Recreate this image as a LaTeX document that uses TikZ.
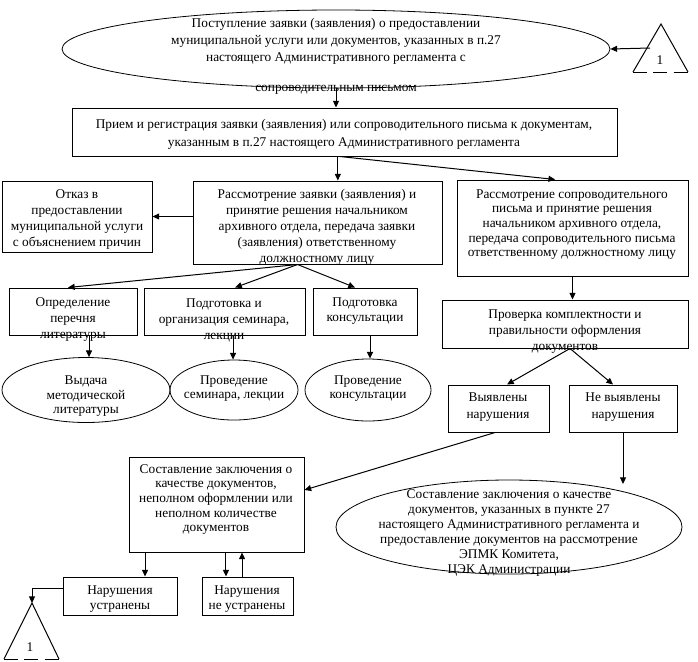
\documentclass[tikz,border=0pt]{standalone}
\usepackage{fontspec}
\setmainfont{Liberation Serif}
\usetikzlibrary{arrows.meta,fit,shapes.geometric,calc}
\begin{document}
\begin{tikzpicture}[x=0.75pt,y=-0.75pt,
  line width=0.75pt,
  arr/.style={-{Triangle[length=5pt,width=4.5pt]}},
  bx/.style={draw, rectangle, inner sep=0pt},
  el/.style={draw, ellipse, inner sep=0pt, line width=0.6pt},
  tx/.style={align=center, inner sep=0pt, font=\fontsize{10}{#1}\selectfont},
  tx/.default=12pt,
  basedash/.style={dash pattern=on 10.5pt off 4.7pt}]
\useasboundingbox (0,0) rectangle (698,661);

% ---------- shapes ----------
\node[el, minimum width=411pt, minimum height=58.5pt] (E1) at (336,49) {};
\node[bx, fit={(72,108) (617,156)}] (B1) {};
\node[bx, fit={(2,181) (152,252)}] (B2) {};
\node[bx, fit={(193,181) (442,264)}] (B3) {};
\node[bx, fit={(457,180) (688,276)}] (B4) {};
\node[bx, fit={(9,288) (137,335)}] (B5) {};
\node[bx, fit={(144,288) (305,335)}] (B6) {};
\node[bx, fit={(313,288) (417,335)}] (B7) {};
\node[el, minimum width=126pt, minimum height=48.75pt] (E2) at (86,390) {};
\node[el, minimum width=96pt, minimum height=45pt] (E3) at (234,390) {};
\node[el, minimum width=94.5pt, minimum height=46.5pt] (E4) at (368,390) {};
\node[bx, fit={(442,300) (688,348)}] (B8) {};
\node[bx, fit={(448,385) (549,432)}] (B9) {};
\node[bx, fit={(569,385) (677,432)}] (B10) {};
\node[bx, fit={(129,457) (304,552)}] (B11) {};
\node[el, minimum width=259.5pt, minimum height=70.5pt] (E5) at (509,527) {};
\node[bx, fit={(63,577) (177,615)}] (B12) {};
\node[bx, fit={(202,577) (293,615)}] (B13) {};

% triangles
\coordinate (T1a) at (661,24);
\coordinate (T1l) at (633,72);
\coordinate (T1r) at (688,72);
\draw (T1l) -- (T1a) -- (T1r);
\draw[basedash] (T1l) -- (T1r);
\node[tx] (T1t) at (660,60) {1};
\coordinate (T1in) at (650,48);

\coordinate (T2a) at (32,603);
\coordinate (T2l) at (4,659);
\coordinate (T2r) at (59,659);
\draw (T2l) -- (T2a) -- (T2r);
\draw[basedash] (T2l) -- (T2r);
\node[tx] (T2t) at (30,647) {1};

% ---------- texts ----------
\node[tx=12.75pt] (tE1) at (336,56) {Поступление заявки (заявления) о предоставлении\\муниципальной услуги или документов, указанных в п.27\\настоящего Административного регламента с\\[9.75pt]сопроводительным письмом};
\node[tx=13.5pt] (tB1) at (344,134) {Прием и регистрация заявки (заявления) или сопроводительного письма к документам,\\указанным в п.27 настоящего Административного регламента};
\node[tx=12pt] (tB2) at (77,219) {Отказ в\\предоставлении\\муниципальной услуги\\с объяснением причин};
\node[tx=12pt] (tB3) at (317,227) {Рассмотрение заявки (заявления) и\\принятие решения начальником\\архивного отдела, передача заявки\\(заявления) ответственному\\должностному лицу};
\node[tx=11pt] (tB4) at (572,224.5) {Рассмотрение сопроводительного\\письма и принятие решения\\начальником архивного отдела,\\передача сопроводительного письма\\ответственному должностному лицу};
\node[tx=12pt] (tB5) at (73,320) {Определение\\перечня\\литературы};
\node[tx=12pt] (tB6) at (224,320) {Подготовка и\\организация семинара,\\лекции};
\node[tx=11.25pt] (tB7) at (365,311.5) {Подготовка\\консультации};
\node[tx=10.9pt] (tE2) at (86,396.5) {Выдача\\методической\\литературы};
\node[tx=10.5pt] (tE3) at (234,389) {Проведение\\семинара, лекции};
\node[tx=10.5pt] (tE4) at (368,389) {Проведение\\консультации};
\node[tx=12pt] (tB8) at (565,332) {Проверка комплектности и\\правильности оформления\\документов};
\node[tx=12.4pt] (tB9) at (498,407) {Выявлены\\нарушения};
\node[tx=12.4pt] (tB10) at (623,407) {Не выявлены\\нарушения};
\node[tx=11pt] (tB11) at (216,499.5) {Составление заключения о\\качестве документов,\\неполном оформлении или\\неполном количестве\\документов};
\node[tx=11.25pt] (tE5) at (509,532.5) {Составление заключения о качестве\\документов, указанных в пункте 27\\настоящего Административного регламента и\\предоставление документов на рассмотрение\\ЭПМК Комитета,\\ЦЭК Администрации};
\node[tx=11.25pt] (tB12) at (120,599.5) {Нарушения\\устранены};
\node[tx=11.25pt] (tB13) at (247,599.5) {Нарушения\\не устранены};

% ---------- connectors ----------
\draw[arr] (T1in) -- (E1.east);
\draw[arr] (E1.south) -- (E1.south |- B1.north);
\draw[arr] ([xshift=-5pt]B1.south) -- ([xshift=-5pt]B1.south |- B3.north);
\draw[arr] ([xshift=-3.5pt]B1.south) -- ([xshift=-13pt]B4.north);
\draw[arr] (B3.west |- B2.east) -- (B2.east);
\draw[arr] ([xshift=-15pt]B3.south) -- ([xshift=-3.75pt]B5.north);
\draw[arr] ([xshift=-15pt]B3.south) -- ([xshift=8pt]B6.north);
\draw[arr] ([xshift=-15pt]B3.south) -- ([xshift=-7.5pt]B7.north);
\draw[arr] ([xshift=12pt]B5.south) -- ([xshift=12pt]B5.south |- E2.north);
\draw[arr] ([xshift=6.4pt]B6.south) -- ([xshift=6.4pt]B6.south |- E3.north);
\draw[arr] ([xshift=3.75pt]B7.south) -- ([xshift=3.75pt]B7.south |- E4.north);
\draw[arr] (B4.south) -- (B4.south |- B8.north);
\draw[arr] ([xshift=3.75pt]B8.south) -- ([xshift=6.4pt]B9.north);
\draw[arr] ([xshift=3.75pt]B8.south) -- ([xshift=-7.5pt]B10.north);
\draw[arr] ([xshift=-2.6pt]B9.south) -- ([yshift=10.9pt]B11.east);
\coordinate (E5in) at (623,484);
\draw[arr] (B10.south) -- (E5in);
\draw[arr] ([xshift=-53.6pt]B11.south) -- ([xshift=-53.6pt]B11.south |- B12.north);
\draw[arr] ([xshift=-4.1pt]B13.north) -- ([xshift=-4.1pt]B13.north |- B11.south);
\draw[arr] ([xshift=7.1pt]B11.south) -- ([xshift=7.1pt]B11.south |- B13.north);
\draw[arr] ([yshift=6pt]B12.west) -| (T2a);
\end{tikzpicture}
\end{document}
